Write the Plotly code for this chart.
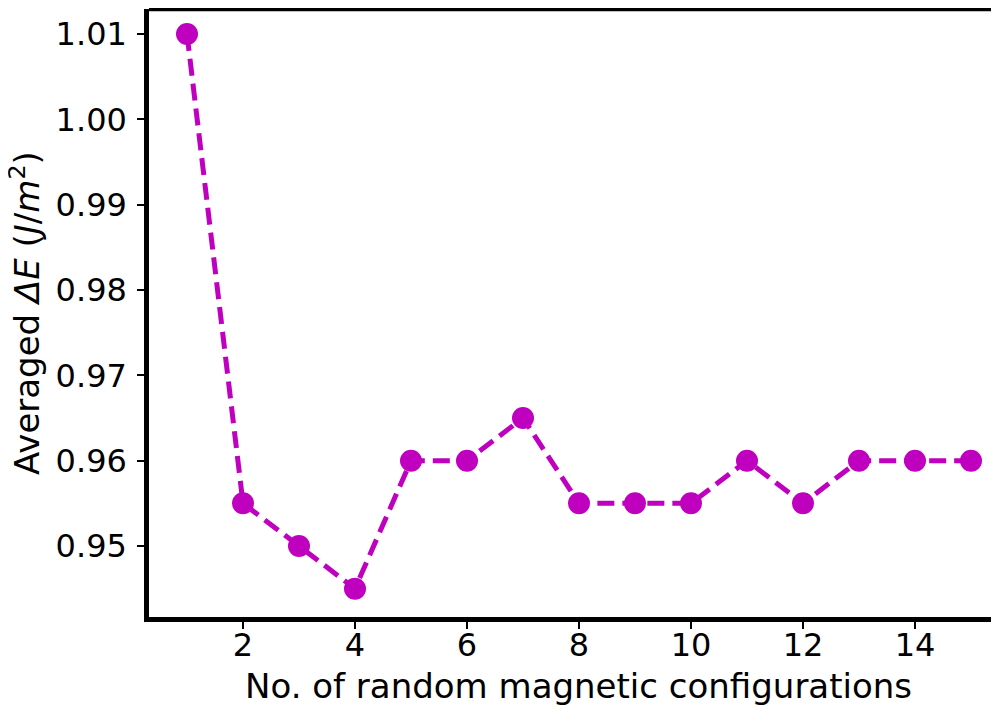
import plotly.graph_objects as go

configs = list(range(1, 16))
avg_dE = [1.010, 0.955, 0.950, 0.945, 0.960, 0.960, 0.965, 0.955, 0.955, 0.955, 0.960, 0.955, 0.960, 0.960, 0.960]
x_ticks = [2, 4, 6, 8, 10, 12, 14]
y_ticks = [0.95, 0.96, 0.97, 0.98, 0.99, 1.00, 1.01]
y_tick_text = ["0.95", "0.96", "0.97", "0.98", "0.99", "1.00", "1.01"]

color = "#bf00bf"
font = "DejaVu Sans"
tick_size = 32
label_size = 34

# page body has an 8px margin; compensate so the plot lands where the reference has it
OFF = 8
W, H = 999 - OFF, 709 - OFF
L_s, R_s, T_s, B_s = 149, 999, 9, 617   # screen coordinates of plot area
L, R, T, B = L_s - OFF, R_s - OFF, T_s - OFF, B_s - OFF

px_per_unit = 56.0
xmin = 1 - (187 - L_s) / px_per_unit
xmax = xmin + (R_s - L_s) / px_per_unit
px_per_y = (546 - 34) / 0.06
ymax = 1.01 + (34 - T_s) / px_per_y
ymin = 0.95 - (B_s - 546) / px_per_y

fig = go.Figure()
fig.add_trace(go.Scatter(
    x=configs, y=avg_dE, mode="lines+markers",
    line=dict(color=color, width=5, dash="17px,8px"),
    marker=dict(color=color, size=22),
    showlegend=False, cliponaxis=False,
))

fig.update_layout(
    width=W, height=H,
    margin=dict(l=L, r=W - R, t=T, b=H - B),
    paper_bgcolor="white", plot_bgcolor="white",
    font=dict(family=font, size=tick_size, color="black"),
    xaxis=dict(range=[xmin, xmax], tickvals=x_ticks, ticks="outside", ticklen=7, tickwidth=2,
               tickcolor="black", showgrid=False, zeroline=False, showline=True, linewidth=4.5,
               linecolor="black", tickfont=dict(size=tick_size, family=font),
               ticklabelstandoff=-11),
    yaxis=dict(range=[ymin, ymax], tickvals=y_ticks, ticktext=y_tick_text, ticks="outside",
               ticklen=7, tickwidth=2, tickcolor="black", showgrid=False, zeroline=False,
               showline=True, linewidth=4.5, linecolor="black",
               tickfont=dict(size=tick_size, family=font), ticklabelstandoff=4),
)
fig.add_shape(type="line", xref="paper", yref="paper", x0=0, x1=1, y0=1, y1=1,
              line=dict(color="black", width=4.5))
fig.add_annotation(text="No. of random magnetic configurations", xref="paper", yref="paper",
                   x=(578 - L_s) / (R_s - L_s), y=0, yshift=-47, yanchor="top", xanchor="center",
                   showarrow=False, font=dict(size=label_size, family=font))
fig.add_annotation(text="Averaged <i>ΔE</i> (<i>J</i>/<i>m</i><sup>2</sup>)", xref="paper", yref="paper",
                   x=0, y=0.5, xshift=-(L_s - 25), xanchor="center", yanchor="middle",
                   textangle=-90, showarrow=False, font=dict(size=label_size, family=font))

fig.write_html("out.html")
